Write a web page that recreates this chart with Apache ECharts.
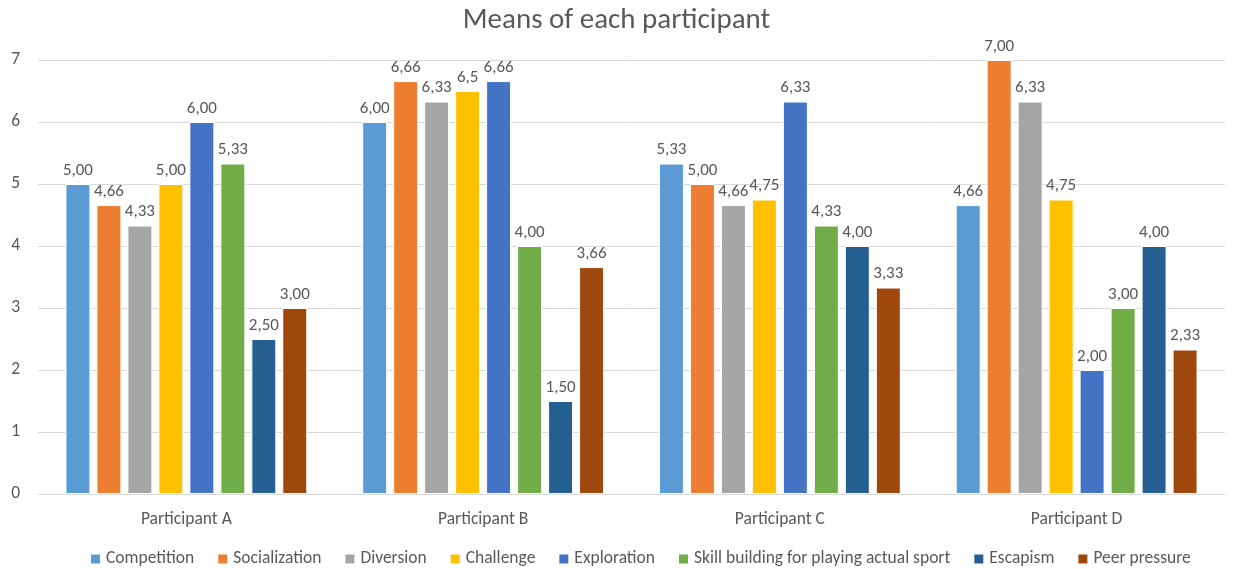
<!DOCTYPE html>
<html>
<head>
<meta charset="utf-8">
<script src="https://cdn.jsdelivr.net/npm/echarts@6/dist/echarts.min.js"></script>
<style>
  html, body { margin: 0; padding: 0; background: #fff; }
  #chart { width: 1233px; height: 569px; }
</style>
</head>
<body>
<div id="chart"></div>
<script>
// categories on the x axis
const participants = ['Participant A', 'Participant B', 'Participant C', 'Participant D'];
const seriesNames = ['Competition', 'Socialization', 'Diversion', 'Challenge', 'Exploration',
  'Skill building for playing actual sport', 'Escapism', 'Peer pressure'];
const colors = ['#5b9bd5', '#ed7d31', '#a5a5a5', '#ffc000', '#4472c4', '#70ad47', '#255e91', '#9e480e'];

// values per series (A, B, C, D)
const competition   = [5.00, 6.00, 5.33, 4.66];
const socialization = [4.66, 6.66, 5.00, 7.00];
const diversion     = [4.33, 6.33, 4.66, 6.33];
const challenge     = [5.00, 6.50, 4.75, 4.75];
const exploration   = [6.00, 6.66, 6.33, 2.00];
const skillBuilding = [5.33, 4.00, 4.33, 3.00];
const escapism      = [2.50, 1.50, 4.00, 4.00];
const peerPressure  = [3.00, 3.66, 3.33, 2.33];

// label texts as printed on the chart
const competitionLbl   = ['5,00', '6,00', '5,33', '4,66'];
const socializationLbl = ['4,66', '6,66', '5,00', '7,00'];
const diversionLbl     = ['4,33', '6,33', '4,66', '6,33'];
const challengeLbl     = ['5,00', '6,5', '4,75', '4,75'];
const explorationLbl   = ['6,00', '6,66', '6,33', '2,00'];
const skillBuildingLbl = ['5,33', '4,00', '4,33', '3,00'];
const escapismLbl      = ['2,50', '1,50', '4,00', '4,00'];
const peerPressureLbl  = ['3,00', '3,66', '3,33', '2,33'];

const yTicks = [0, 1, 2, 3, 4, 5, 6, 7];

const values = [competition, socialization, diversion, challenge, exploration, skillBuilding, escapism, peerPressure];
const labels = [competitionLbl, socializationLbl, diversionLbl, challengeLbl, explorationLbl, skillBuildingLbl, escapismLbl, peerPressureLbl];

const font = 'Calibri, Carlito, "Open Sans", sans-serif';

let chart = echarts.init(document.getElementById('chart'));
let option = {
  animation: false,
  title: {
    text: 'Means of each participant',
    left: 'center',
    top: 1,
    textStyle: { fontFamily: font, fontSize: 29, fontWeight: 'normal', color: '#595959' }
  },
  legend: {
    bottom: -4,
    left: 84,
    itemWidth: 11,
    itemHeight: 11,
    itemGap: 22,
    icon: 'rect',
    textStyle: { fontFamily: font, fontSize: 17.5, color: '#595959' },
    data: seriesNames
  },
  grid: { left: 38, right: 8, top: 60, bottom: 75 },
  xAxis: {
    type: 'category',
    data: participants,
    axisTick: { show: false },
    axisLine: { lineStyle: { color: '#d9d9d9' } },
    axisLabel: { fontFamily: font, fontSize: 17.5, color: '#595959', margin: 17 }
  },
  yAxis: {
    type: 'value',
    min: yTicks[0],
    max: yTicks[yTicks.length - 1],
    interval: 1,
    axisLabel: { fontFamily: font, fontSize: 17.5, color: '#595959', margin: 18 },
    splitLine: { lineStyle: { color: '#d9d9d9' } }
  },
  series: seriesNames.map((name, i) => ({
    name: name,
    type: 'bar',
    barGap: '24%',
    barCategoryGap: '18.5%',
    data: values[i],
    itemStyle: { color: colors[i], borderColor: '#fff', borderWidth: 1 },
    label: {
      show: true,
      position: 'top',
      distance: 5,
      fontFamily: font,
      fontSize: 17,
      color: '#595959',
      formatter: p => labels[i][p.dataIndex]
    }
  }))
};
chart.setOption(option);
</script>
</body>
</html>
